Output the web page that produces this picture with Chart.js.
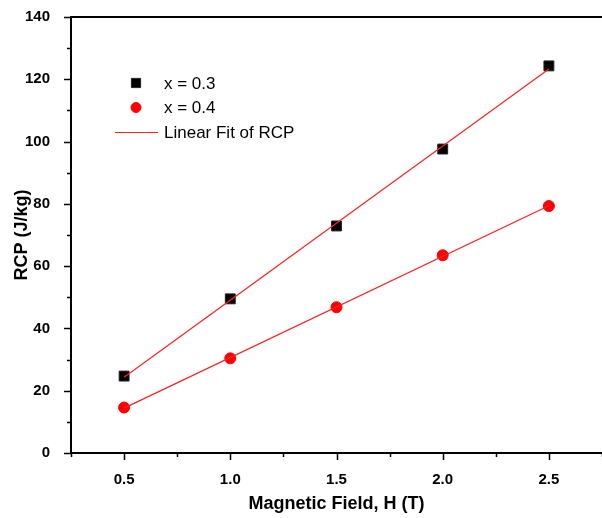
<!DOCTYPE html>
<html>
<head>
<meta charset="utf-8">
<script src="https://cdn.jsdelivr.net/npm/chart.js@4/dist/chart.umd.min.js"></script>
<style>
    body { margin: 0; overflow: hidden; background: #fff; }
    #wrap { width: 610px; height: 518px; }
</style>
</head>
<body onload="onInit()">
<div id="wrap"><canvas id="myChart" width="610" height="518"></canvas></div>
<script>
'use strict'

// fields (T)
const gFields = [0.5, 1.0, 1.5, 2.0, 2.5]
// RCP (J/kg) for each sample
const gRcp03 = [24.7, 49.5, 72.9, 97.6, 124.3]
const gRcp04 = [14.6, 30.4, 46.8, 63.5, 79.3]
// linear fit end points
const gFitX = [0.5, 2.5]
const gFit03 = [24.3, 123.3]
const gFit04 = [14.4, 79.4]

const FONT = "'Liberation Sans', Arial, sans-serif"
const FIT_COLOR = '#ff2020'

var gChart

function toPoints(xs, ys) {
    return xs.map((x, idx) => ({ x, y: ys[idx] }))
}

function noScalePadding(scale) {
    scale.paddingTop = 0
    scale.paddingBottom = 0
    scale.paddingLeft = 0
    scale.paddingRight = 0
}

// frame top line + short minor / long major tick marks
const axisPlugin = {
    id: 'axisDeco',
    afterDraw(chart) {
        const ctx = chart.ctx
        const area = chart.chartArea
        ctx.save()
        ctx.strokeStyle = '#000'
        ctx.lineWidth = 2
        ctx.beginPath()
        ctx.moveTo(area.left - 1, area.top)
        ctx.lineTo(area.right, area.top)
        ctx.stroke()

        ctx.lineWidth = 1.5
        const xScale = chart.scales.x
        xScale.ticks.forEach(tick => {
            const isMajor = tick.value % 0.5 === 0
            const px = Math.round(xScale.getPixelForValue(tick.value)) + 0.5
            ctx.beginPath()
            ctx.moveTo(px, area.bottom)
            ctx.lineTo(px, area.bottom + (isMajor ? 7 : 4))
            ctx.stroke()
        })
        const yScale = chart.scales.y
        yScale.ticks.forEach(tick => {
            const isMajor = tick.value % 20 === 0
            const py = Math.round(yScale.getPixelForValue(tick.value)) + 0.5
            ctx.beginPath()
            ctx.moveTo(area.left, py)
            ctx.lineTo(area.left - (isMajor ? 7 : 4), py)
            ctx.stroke()
        })
        ctx.restore()
    }
}

// legend inside the plot, top left
const legendPlugin = {
    id: 'innerLegend',
    afterDraw(chart) {
        const ctx = chart.ctx
        const sets = chart.data.datasets
            .filter(ds => ds.label)
            .sort((a, b) => a.legendPos - b.legendPos)
        const x = 136
        let y = 83
        ctx.save()
        ctx.font = '17px ' + FONT
        ctx.textBaseline = 'middle'
        sets.forEach(ds => {
            if (ds.showLine) {
                ctx.strokeStyle = FIT_COLOR
                ctx.lineWidth = 1
                ctx.beginPath()
                ctx.moveTo(115, y + 0.5)
                ctx.lineTo(158, y + 0.5)
                ctx.stroke()
            } else {
                ctx.fillStyle = ds.backgroundColor
                ctx.strokeStyle = ds.borderColor
                ctx.lineWidth = 1
                Chart.helpers.drawPoint(ctx, {
                    pointStyle: ds.pointStyle,
                    radius: ds.pointRadius - 0.5,
                    rotation: 0,
                    borderWidth: 1
                }, x, y)
            }
            ctx.fillStyle = '#000'
            ctx.fillText(ds.label, 164, y + 1)
            y += 24.5
        })
        ctx.restore()
    }
}

function onInit() {
    const ctx = document.getElementById('myChart')
    gChart = new Chart(ctx, {
        type: 'scatter',
        data: {
            datasets: [
                {
                    label: 'Linear Fit of RCP',
                    legendPos: 3,
                    data: toPoints(gFitX, gFit03),
                    showLine: true,
                    borderColor: FIT_COLOR,
                    borderWidth: 1.2,
                    pointRadius: 0,
                    order: 0
                },
                {
                    label: '',
                    data: toPoints(gFitX, gFit04),
                    showLine: true,
                    borderColor: FIT_COLOR,
                    borderWidth: 1.2,
                    pointRadius: 0,
                    order: 0
                },
                {
                    label: 'x = 0.3',
                    legendPos: 1,
                    data: toPoints(gFields, gRcp03),
                    pointStyle: 'rect',
                    pointRadius: 7,
                    backgroundColor: '#000',
                    borderColor: '#222',
                    borderWidth: 1,
                    order: 1
                },
                {
                    label: 'x = 0.4',
                    legendPos: 2,
                    data: toPoints(gFields, gRcp04),
                    pointStyle: 'circle',
                    pointRadius: 5.5,
                    backgroundColor: '#ff0000',
                    borderColor: '#ff0000',
                    borderWidth: 1,
                    order: 1
                }
            ]
        },
        options: {
            responsive: false,
            animation: false,
            events: [],
            layout: { padding: { top: 17, right: 5, left: 0, bottom: 0 } },
            plugins: {
                legend: { display: false },
                tooltip: { enabled: false }
            },
            scales: {
                x: {
                    type: 'linear',
                    min: 0.25,
                    max: 2.75,
                    afterFit: scale => {
                        scale.height = 65
                        noScalePadding(scale)
                    },
                    border: { color: '#000', width: 2 },
                    grid: { display: false },
                    ticks: {
                        stepSize: 0.25,
                        autoSkip: false,
                        maxRotation: 0,
                        padding: 10,
                        color: '#000',
                        font: { family: FONT, size: 15, weight: 'bold' },
                        callback: val => (val % 0.5 === 0 ? val.toFixed(1) : '')
                    },
                    title: {
                        display: true,
                        text: 'Magnetic Field, H (T)',
                        color: '#000',
                        font: { family: FONT, size: 18, weight: 'bold' },
                        padding: { top: 0, bottom: 3 }
                    }
                },
                y: {
                    min: 0,
                    max: 140,
                    afterFit: scale => {
                        scale.width = 71
                        noScalePadding(scale)
                    },
                    border: { color: '#000', width: 2 },
                    grid: { display: false },
                    ticks: {
                        stepSize: 10,
                        autoSkip: false,
                        padding: 13,
                        color: '#000',
                        font: { family: FONT, size: 15, weight: 'bold' },
                        callback: val => (val % 20 === 0 ? val : '')
                    },
                    title: {
                        display: true,
                        text: 'RCP (J/kg)',
                        color: '#000',
                        font: { family: FONT, size: 18, weight: 'bold' },
                        padding: { top: 11, bottom: 0 }
                    }
                }
            }
        },
        plugins: [axisPlugin, legendPlugin]
    })
}
</script>
</body>
</html>
